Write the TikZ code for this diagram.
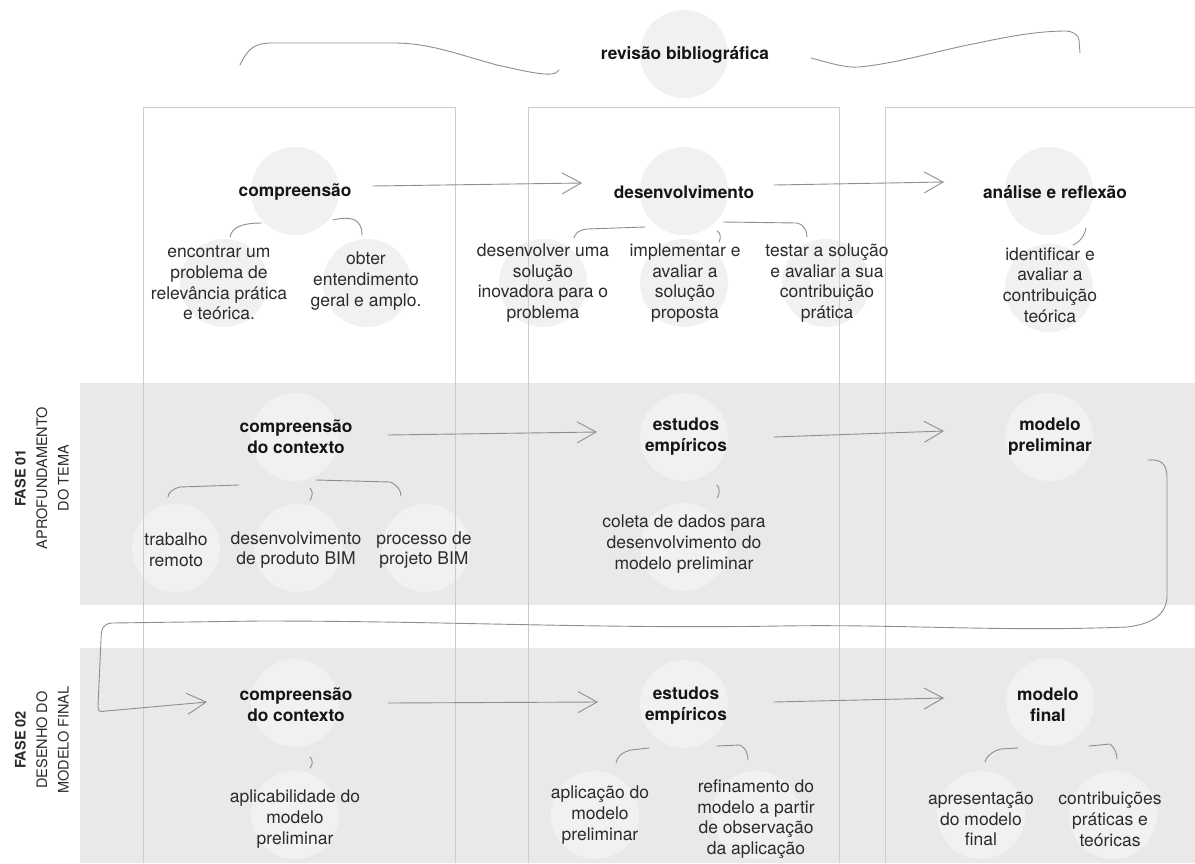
\documentclass[tikz,border=0pt]{standalone}
\usepackage{fontspec}
\setmainfont{TeX Gyre Heros}
\usetikzlibrary{arrows.meta}
\definecolor{bandc}{HTML}{E9E9E9}
\definecolor{circc}{HTML}{F1F1F1}
\definecolor{boxc}{HTML}{CDCDCD}
\definecolor{connc}{HTML}{8E8E8E}
\definecolor{txtc}{HTML}{2B2B2B}
\definecolor{ttlc}{HTML}{151515}
\begin{document}
\begin{tikzpicture}[x=1pt,y=-1pt,
 bub/.style={circle, fill=circc, inner sep=0pt, minimum size=88pt},
 ttl/.style={font=\fontsize{17.3}{21}\selectfont\bfseries, text=ttlc, align=center, inner sep=0pt},
 sub/.style={font=\fontsize{17.5}{20.8}\selectfont, text=txtc, align=center, inner sep=0pt},
 conn/.style={draw=connc, line width=0.9pt, line cap=round, line join=round},
 arr/.style={conn, -{Straight Barb[length=19pt,width=21pt]}},
 boxline/.style={draw=boxc, line width=0.8pt},
 lbl/.style={rotate=90, align=center, font=\fontsize{14.5}{21.5}\selectfont, text=txtc, inner sep=0pt}]
\useasboundingbox (0,0) rectangle (1195,863);
\fill[white] (0,0) rectangle (1195,863);
% bands
\fill[bandc] (80,383) rectangle (1195,605);
\fill[bandc] (80,648) rectangle (1195,863);
% circles
\node[bub] (r0) at (684,54) {};
\node[bub] (c11) at (295,191) {};
\node[bub] (c12) at (684,191) {};
\node[bub] (c13) at (1049,191) {};
\node[bub] (c21) at (295,437) {};
\node[bub] (c22) at (684,437) {};
\node[bub] (c23) at (1049,437) {};
\node[bub] (c31) at (295,703) {};
\node[bub] (c32) at (684,704) {};
\node[bub] (c33) at (1050,702) {};
\node[bub] (b111) at (224,283) {};
\node[bub] (b112) at (367,283) {};
\node[bub] (b121) at (543,283) {};
\node[bub] (b122) at (684,283) {};
\node[bub] (b123) at (826,283) {};
\node[bub] (b131) at (1049,288) {};
\node[bub] (b211) at (176,548) {};
\node[bub] (b212) at (298,548) {};
\node[bub] (b213) at (426,548) {};
\node[bub] (b221) at (684,547) {};
\node[bub] (b311) at (295,815) {};
\node[bub] (b321) at (595,815) {};
\node[bub] (b322) at (756,815) {};
\node[bub] (b331) at (981,815) {};
\node[bub] (b332) at (1113,815) {};
% column boxes
\draw[boxline] (143,863) -- (143,107) -- (455,107) -- (455,863);
\draw[boxline] (528,863) -- (528,107) -- (839,107) -- (839,863);
\draw[boxline] (885,863) -- (885,107) -- (1196,107);
% titles
\node[ttl] (t0) at (685,55) {revisão bibliográfica};
\node[ttl] (t11) at (295,192) {compreensão};
\node[ttl] (t12) at (684,192) {desenvolvimento};
\node[ttl] (t13) at (1055,192) {análise e reflexão};
\node[ttl] (t21) at (296,437) {compreensão\\do contexto};
\node[ttl] (t22) at (686,437) {estudos\\empíricos};
\node[ttl] (t23) at (1050,437) {modelo\\preliminar};
\node[ttl] (t31) at (296,705) {compreensão\\do contexto};
\node[ttl] (t32) at (686,706) {estudos\\empíricos};
\node[ttl] (t33) at (1048,705) {modelo\\final};
% sub texts
\node[sub] (s111) at (219,283) {encontrar um\\problema de\\relevância prática\\e teórica.};
\node[sub] (s112) at (366,281) {obter\\entendimento\\geral e amplo.};
\node[sub] (s121) at (543,283) {desenvolver uma\\solução\\inovadora para o\\problema};
\node[sub] (s122) at (685,283) {implementar e\\avaliar a\\solução\\proposta};
\node[sub] (s123) at (827,283) {testar a solução\\e avaliar a sua\\contribuição\\prática};
\node[sub] (s131) at (1050,285) {identificar e\\avaliar a\\contribuição\\teórica};
\node[sub] (s211) at (176,550) {trabalho\\remoto};
\node[sub] (s212) at (296,550) {desenvolvimento\\de produto BIM};
\node[sub] (s213) at (424,550) {processo de\\projeto BIM};
\node[sub] (s221) at (684,544) {coleta de dados para\\desenvolvimento do\\modelo preliminar};
\node[sub] (s311) at (295,819) {aplicabilidade do\\modelo\\preliminar};
\node[sub] (s321) at (600,815) {aplicação do\\modelo\\preliminar};
\node[sub] (s322) at (756,819) {refinamento do\\modelo a partir\\de observação\\da aplicação};
\node[sub] (s331) at (981,819) {apresentação\\do modelo\\final};
\node[sub] (s332) at (1110,819) {contribuições\\práticas e\\teóricas};
% phase labels
\node[lbl] (f1) at (42,478) {\textbf{FASE 01}\\APROFUNDAMENTO\\DO TEMA};
\node[lbl] (f2) at (42,740) {\textbf{FASE 02}\\DESENHO DO\\MODELO FINAL};
% top brace
\draw[conn] (240,65) .. controls (248,48) and (255,43) .. (272,43) -- (394,43)
  .. controls (430,43) and (460,55) .. (497,65) .. controls (520,70) and (540,75) .. (552,74)
  .. controls (556,73) .. (559,70);
\draw[conn] (811,58) .. controls (830,63) and (845,68) .. (859,67)
  .. controls (900,63) and (940,50) .. (978,43) .. controls (1010,36) and (1040,31) .. (1066,31)
  .. controls (1072,31) and (1079,35) .. (1079,40) -- (1080,53);
% arrows between stages
\draw[arr] ([shift={(78,-5)}]c11.center) -- ([shift={(-102,-8)}]c12.center);
\draw[arr] ([shift={(90,-6)}]c12.center) -- ([shift={(-105,-9)}]c13.center);
\draw[arr] ([shift={(93,-2)}]c21.center) -- ([shift={(-87,-5)}]c22.center);
\draw[arr] ([shift={(90,0)}]c22.center) -- ([shift={(-105,-6)}]c23.center);
\draw[arr] ([shift={(93,0)}]c31.center) -- ([shift={(-86,-2)}]c32.center);
\draw[arr] ([shift={(90,-2)}]c32.center) -- ([shift={(-106,-4)}]c33.center);
% return connector
\draw[arr] ([shift={(99,23)}]c23.center) .. controls (1160,459) and (1167,463) .. (1167,477)
  -- (1167,597) .. controls (1166,615) and (1152,624) .. (1127,627)
  .. controls (1000,632) and (900,624) .. (780,626) .. controls (600,629) and (450,621) .. (260,621)
  -- (112,623) .. controls (103,624) and (101,628) .. (101,640)
  -- (98,706) .. controls (98,712) and (100,712) .. (106,711) -- ([shift={(-88,-1)}]c31.center);
% brackets row 1
\draw[conn] ([shift={(-33,32)}]c11.center) .. controls (240,223) and (232,228) .. (230,237);
\draw[conn] ([shift={(38,29)}]c11.center) .. controls (350,216) and (362,218) .. (362,235);
\draw[conn] ([shift={(-39,36)}]c12.center) -- (587,229) .. controls (578,230) and (575,234) .. (574,238);
\draw[conn] ([shift={(33,40)}]c12.center) .. controls (721,233) and (721,238) .. (719,242);
\draw[conn] ([shift={(39,31)}]c12.center) -- (797,223) .. controls (804,225) and (807,230) .. (807,237);
\draw[conn] ([shift={(37,37)}]c13.center) .. controls (1084,238) and (1078,243) .. (1073,245);
% brackets row 2
\draw[conn] ([shift={(-56,48)}]c21.center) -- (180,487) .. controls (172,489) and (168,493) .. (168,497);
\draw[conn] ([shift={(15,51)}]c21.center) .. controls (313,491) and (313,496) .. (310,500);
\draw[conn] ([shift={(21,43)}]c21.center) -- (390,482) .. controls (397,485) and (401,490) .. (401,496);
\draw[conn] ([shift={(33,48)}]c22.center) .. controls (720,488) and (720,494) .. (717,498);
% brackets row 3
\draw[conn] ([shift={(15,54)}]c31.center) .. controls (313,760) and (313,765) .. (310,768);
\draw[conn] ([shift={(-35,44)}]c32.center) -- (631,750) .. controls (622,752) and (617,757) .. (616,763);
\draw[conn] ([shift={(33,42)}]c32.center) -- (740,745) .. controls (746,748) and (748,754) .. (748,760);
\draw[conn] ([shift={(-32,46)}]c33.center) -- (1001,749) .. controls (992,751) and (986,757) .. (985,762);
\draw[conn] ([shift={(39,44)}]c33.center) -- (1110,744) .. controls (1115,748) and (1117,754) .. (1117,759);
\end{tikzpicture}
\end{document}
